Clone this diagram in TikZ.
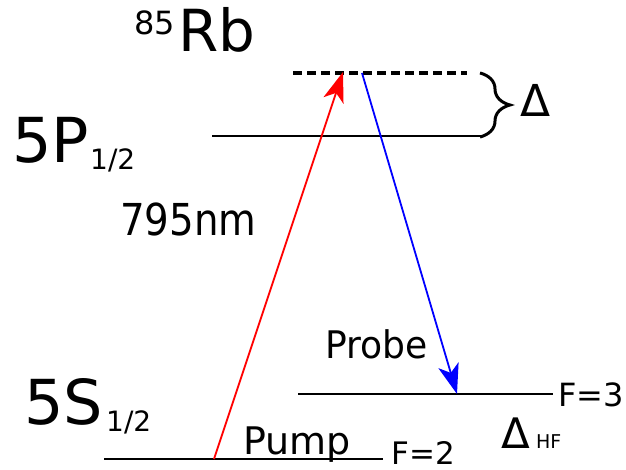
\documentclass[tikz,border=0pt]{standalone}
\usepackage{fontspec}
\setmainfont{DejaVu Sans}
\usetikzlibrary{arrows.meta,decorations.pathreplacing}
\newcommand{\fsz}[1]{\fontsize{#1}{#1}\selectfont}

\begin{document}
\begin{tikzpicture}[x=1pt, y=-1pt, every node/.style={inner sep=0pt, anchor=base west}, level/.style={line width=2.6pt}, virtual/.style={line width=3.2pt, dash pattern=on 9pt off 5pt}, beam/.style={line width=1.8pt, -{Stealth[length=30pt,width=21pt,inset=8pt]}}]
  \useasboundingbox (0,0) rectangle (626,470);
  % levels
  \coordinate (vl) at (293,73);   \coordinate (vr) at (467,73);
  \coordinate (pl) at (212,136);  \coordinate (pr) at (482,136);
  \coordinate (fl3) at (298,394); \coordinate (fr3) at (553,394);
  \coordinate (fl2) at (104,459); \coordinate (fr2) at (383,459);
  \draw[virtual] (vl) -- (vr);
  \draw[level] (pl) -- (pr);
  \draw[level] (fl3) -- (fr3);
  \draw[level] (fl2) -- (fr2);
  \draw[line width=3pt, decorate, decoration={brace, amplitude=30pt}] (480,73) -- (480,137);
  % beams
  \coordinate (pumpfoot) at (214,459); \coordinate (pumptip) at (343,72);
  \coordinate (probetop) at (362,73);  \coordinate (probetip) at (457,394);
  \draw[beam, red] (pumpfoot) -- (pumptip);
  \draw[beam, blue] (probetop) -- (probetip);
  % labels
  \node (mass) at (134,35) {\fsz{32}85};
  \node (rb) at (178,52) {\fsz{58}Rb};
  \node (p12) at (12,163) {\fsz{62}5P};
  \node (p12sub) at (90,170) {\fsz{28}1/2};
  \node (s12) at (24,424) {\fsz{62}5S};
  \node (s12sub) at (106,431) {\fsz{28}1/2};
  \node (wl) at (120,236) {\fsz{44}\scalebox{0.88}[1]{795nm}};
  \node (delta) at (520,117) {\fsz{44}Δ};
  \node (probe) at (325,358) {\fsz{38}\scalebox{0.95}[1]{Probe}};
  \node (pump) at (243,454) {\fsz{38}Pump};
  \node (f3) at (558,406) {\fsz{32}F=3};
  \node (f2) at (391,464) {\fsz{31}F=2};
  \node (dhf) at (501,448) {\fsz{42}Δ};
  \node (hf) at (536,448) {\fsz{19}HF};
\end{tikzpicture}
\end{document}
